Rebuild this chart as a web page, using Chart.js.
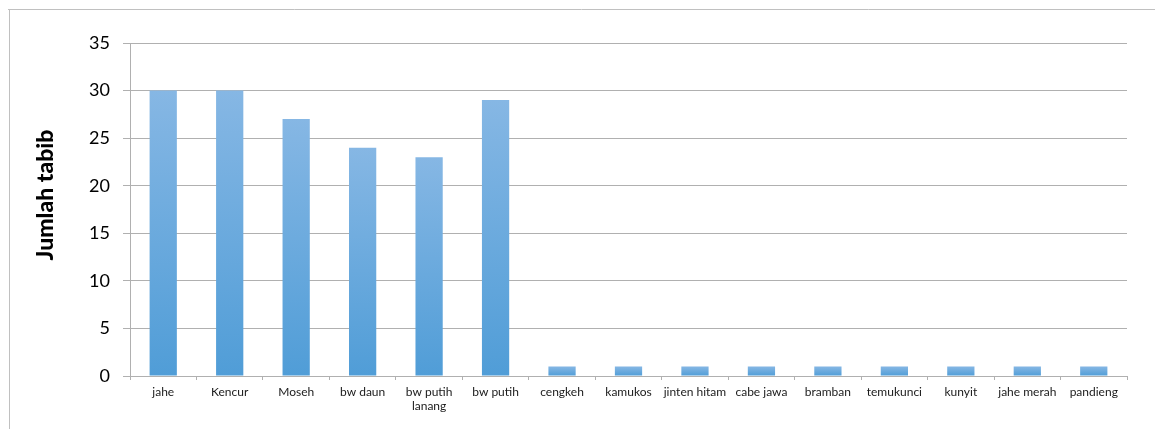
<!DOCTYPE html>
<html>
<head>
<meta charset="utf-8">
<script src="https://cdn.jsdelivr.net/npm/chart.js@4/dist/chart.umd.min.js"></script>
<style>
    html, body { margin: 0; padding: 0; background: #fff; }
    #wrap { width: 1155px; height: 429px; position: relative; }
</style>
</head>
<body>
<div id="wrap"><canvas id="tabibChart"></canvas></div>
<script>
var kategori = ['jahe', 'Kencur', 'Moseh', 'bw daun', ['bw putih', 'lanang'], 'bw putih', 'cengkeh', 'kamukos',
    'jinten hitam', 'cabe jawa', 'bramban', 'temukunci', 'kunyit', 'jahe merah', 'pandieng'];
var jumlahTabib = [30, 30, 27, 24, 23, 29, 1, 1, 1, 1, 1, 1, 1, 1, 1];
var judulSumbuY = 'Jumlah tabib';

// bingkai luar + judul sumbu y
var bingkaiPlugin = {
    id: 'bingkai',
    afterDraw: function (chart) {
        var ctx = chart.ctx;
        ctx.save();
        ctx.strokeStyle = '#c0c0c0';
        ctx.lineWidth = 1;
        ctx.beginPath();
        ctx.moveTo(8, 9.5);
        ctx.lineTo(1155, 9.5);
        ctx.moveTo(9.5, 9);
        ctx.lineTo(9.5, 429);
        ctx.stroke();

        ctx.translate(46, 195);
        ctx.rotate(-Math.PI / 2);
        ctx.font = '900 23px Lato';
        ctx.fillStyle = '#000';
        ctx.textAlign = 'center';
        ctx.textBaseline = 'middle';
        ctx.fillText(judulSumbuY, 0, 0);
        ctx.restore();
    }
};

function warnaBatang(context) {
    var chart = context.chart;
    var y = chart.scales.y;
    if (!y || context.parsed === undefined) {
        return '#64a6dd';
    }
    var atas = y.getPixelForValue(context.parsed.y);
    var bawah = y.getPixelForValue(0);
    if (!isFinite(atas) || !isFinite(bawah) || atas === bawah) {
        return '#64a6dd';
    }
    var g = chart.ctx.createLinearGradient(0, atas, 0, bawah);
    g.addColorStop(0, '#86b7e4');
    g.addColorStop(1, '#509dd7');
    return g;
}

var ctx = document.getElementById('tabibChart').getContext('2d');
var tabibChartInstance = new Chart(ctx, {
    type: 'bar',
    data: {
        labels: kategori,
        datasets: [{
            label: judulSumbuY,
            data: jumlahTabib,
            backgroundColor: warnaBatang,
            borderWidth: 0,
            barPercentage: 0.41,
            categoryPercentage: 1
        }]
    },
    options: {
        responsive: true,
        maintainAspectRatio: false,
        animation: false,
        layout: {
            padding: { left: 0, top: 43, right: 28, bottom: 0 }
        },
        plugins: {
            legend: { display: false },
            tooltip: { enabled: false }
        },
        scales: {
            x: {
                afterFit: function (scale) { scale.height = 53; },
                grid: {
                    offset: true,
                    drawOnChartArea: false,
                    drawTicks: true,
                    tickLength: 4,
                    color: '#b0b0b0'
                },
                border: { color: '#b0b0b0', width: 1 },
                ticks: {
                    color: '#1a1a1a',
                    padding: 5,
                    maxRotation: 0,
                    autoSkip: false,
                    font: { family: 'Lato', size: 12 }
                }
            },
            y: {
                min: 0,
                max: 35,
                afterFit: function (scale) { scale.width = 130; },
                grid: {
                    color: '#b0b0b0',
                    tickLength: 7,
                    lineWidth: 1
                },
                border: { color: '#b0b0b0', width: 1 },
                ticks: {
                    stepSize: 5,
                    color: '#000',
                    padding: 13,
                    font: { family: 'Lato', size: 18 }
                }
            }
        }
    },
    plugins: [bingkaiPlugin]
});
</script>
</body>
</html>
